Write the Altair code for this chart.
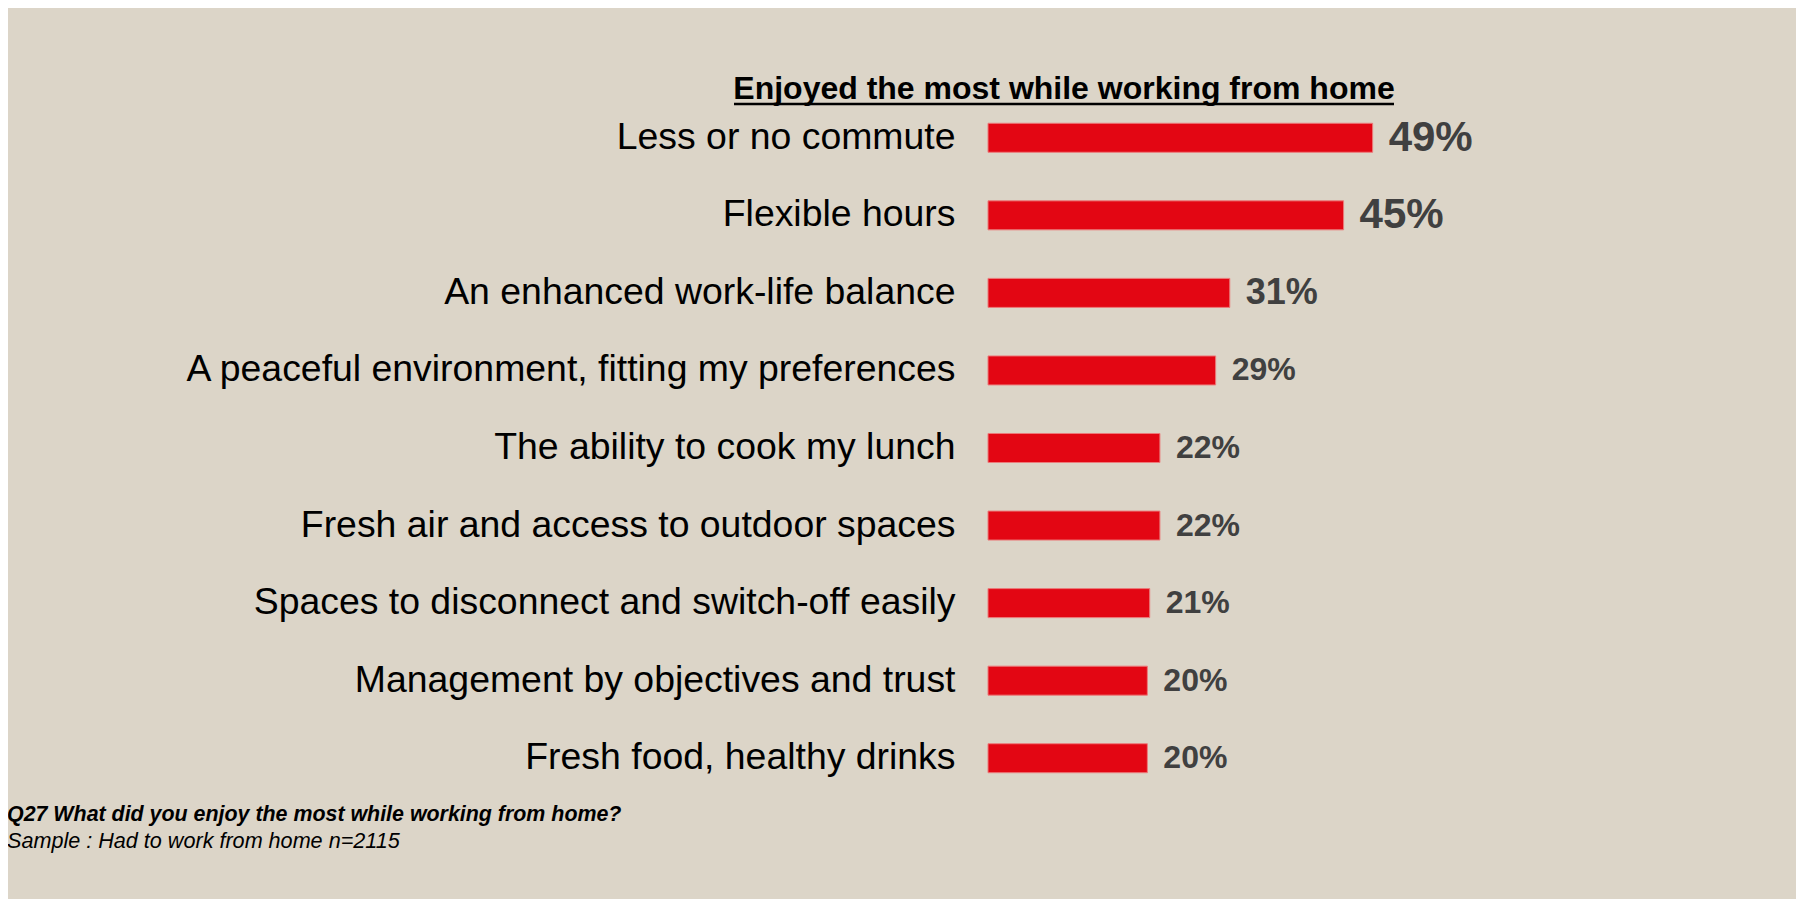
import altair as alt
import pandas as pd

categories = [
    "Less or no commute",
    "Flexible hours",
    "An enhanced work-life balance",
    "A peaceful environment, fitting my preferences",
    "The ability to cook my lunch",
    "Fresh air and access to outdoor spaces",
    "Spaces to disconnect and switch-off easily",
    "Management by objectives and trust",
    "Fresh food, healthy drinks",
]
values = [49.0, 45.3, 30.8, 29.0, 21.9, 21.9, 20.6, 20.3, 20.3]
labels = ["49%", "45%", "31%", "29%", "22%", "22%", "21%", "20%", "20%"]

title_text = "Enjoyed the most while working from home"
note_q = "Q27 What did you enjoy the most while working from home?"
note_s = "Sample : Had to work from home n=2115"

FONT = "Liberation Sans"
BG = "#DCD5C8"

df = pd.DataFrame({"cat": categories, "val": values, "lbl": labels})

base = alt.Chart(df).encode(
    y=alt.Y(
        "cat:N",
        sort=categories,
        scale=alt.Scale(paddingInner=0.626, paddingOuter=0.313),
        axis=alt.Axis(
            title=None, ticks=False, domain=False, grid=False,
            labelPadding=33, labelFontSize=37.4, labelFont=FONT,
            labelColor="#000000", labelLimit=0,
        ),
    )
)

xenc = alt.X("val:Q", scale=alt.Scale(domain=[0, 100], nice=False, zero=True), axis=None)

bars = base.mark_bar(color="#E30613", stroke="#EC7B7B", strokeWidth=1).encode(x=xenc)

def value_text(size, cond):
    return base.mark_text(
        align="left", baseline="middle", dx=16, fontSize=size,
        fontWeight="bold", color="#404040", font=FONT,
    ).encode(x=xenc, text="lbl:N").transform_filter(cond)

t_big = value_text(42, alt.datum.val >= 40)
t_mid = value_text(36, (alt.datum.val >= 30) & (alt.datum.val < 40))
t_small = value_text(32, alt.datum.val < 30)

title = alt.Chart(pd.DataFrame({"t": [title_text]})).mark_text(
    align="center", baseline="alphabetic", fontSize=32, fontWeight="bold",
    font=FONT, color="#000000",
).encode(text="t:N", x=alt.value(76), y=alt.value(0))

underline = alt.Chart(pd.DataFrame({"t": [0]})).mark_rule(
    color="#000000", strokeWidth=2.5
).encode(x=alt.value(-254), x2=alt.value(406), y=alt.value(5))

note1 = alt.Chart(pd.DataFrame({"t": [note_q]})).mark_text(
    align="left", baseline="alphabetic", fontSize=21.4, fontWeight="bold",
    fontStyle="italic", font=FONT, color="#000000",
).encode(text="t:N", x=alt.value(-981), y=alt.value(722))

note2 = alt.Chart(pd.DataFrame({"t": [note_s]})).mark_text(
    align="left", baseline="alphabetic", fontSize=21.6,
    fontStyle="italic", font=FONT, color="#000000",
).encode(text="t:N", x=alt.value(-981), y=alt.value(749))

chart = alt.layer(bars, t_big, t_mid, t_small, title, underline, note1, note2).properties(
    width=785,
    height=698,
    autosize=alt.AutoSizeParams(type="none"),
    padding={"left": 980, "top": 91, "right": 23, "bottom": 102},
    background=BG,
).configure_view(stroke=None)

chart.save("out.html", embed_options={"renderer": "svg", "actions": False})
